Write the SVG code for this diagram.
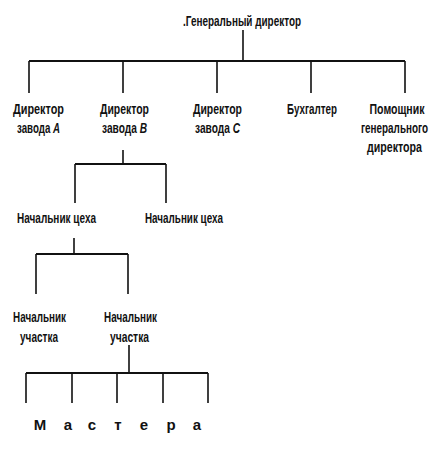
<svg xmlns="http://www.w3.org/2000/svg" width="432" height="454" viewBox="0 0 432 454">
<style>
text{font-family:"Liberation Sans",Arial,sans-serif;font-size:15.5px;font-weight:bold;fill:#111;text-anchor:middle}
.m{font-size:15px}
.l{stroke:#111;stroke-width:1.6;fill:none}
.h{stroke:#111;stroke-width:2.2;fill:none}
</style>
<rect width="432" height="454" fill="#fff"/>
<g id="connectors">
<line class="l" x1="243" y1="30" x2="243" y2="61"/>
<line class="h" x1="29" y1="61" x2="405" y2="61"/>
<path class="l" d="M29 61V93M123 61V93M217 61V93M311 61V93M405 61V93"/>
<line class="l" x1="123" y1="150" x2="123" y2="164"/>
<line class="h" x1="75" y1="164" x2="166" y2="164"/>
<path class="l" d="M75 164V203M166 164V203"/>
<line class="l" x1="74" y1="238" x2="74" y2="254"/>
<line class="h" x1="36" y1="254" x2="128" y2="254"/>
<path class="l" d="M36 254V294M128 254V294"/>
<line class="l" x1="129" y1="345" x2="129" y2="373"/>
<line class="h" x1="26" y1="373" x2="208" y2="373"/>
<path class="l" d="M26 373V403M72 373V403M117 373V403M163 373V403M208 373V403"/>
</g>
<g id="n-gen"><text x="242" y="26" textLength="118" lengthAdjust="spacingAndGlyphs">.Генеральный директор</text></g>
<g id="n-dirA"><text x="38.5" y="114" textLength="51" lengthAdjust="spacingAndGlyphs">Директор</text><text x="38.5" y="133" textLength="43" lengthAdjust="spacingAndGlyphs">завода <tspan font-style="italic">A</tspan></text></g>
<g id="n-dirB"><text x="124.5" y="114" textLength="49" lengthAdjust="spacingAndGlyphs">Директор</text><text x="124.5" y="133" textLength="45" lengthAdjust="spacingAndGlyphs">завода <tspan font-style="italic">B</tspan></text></g>
<g id="n-dirC"><text x="217.5" y="114" textLength="49" lengthAdjust="spacingAndGlyphs">Директор</text><text x="217.5" y="133" textLength="45" lengthAdjust="spacingAndGlyphs">завода <tspan font-style="italic">C</tspan></text></g>
<g id="n-buh"><text x="312" y="114" textLength="50" lengthAdjust="spacingAndGlyphs">Бухгалтер</text></g>
<g id="n-pom"><text x="397" y="114" textLength="55" lengthAdjust="spacingAndGlyphs">Помощник</text><text x="394.5" y="133" textLength="67" lengthAdjust="spacingAndGlyphs">генерального</text><text x="394.5" y="152" textLength="55" lengthAdjust="spacingAndGlyphs">директора</text></g>
<g id="n-cex1"><text x="56.5" y="223" textLength="79" lengthAdjust="spacingAndGlyphs">Начальник цеха</text></g>
<g id="n-cex2"><text x="184" y="223" textLength="78" lengthAdjust="spacingAndGlyphs">Начальник цеха</text></g>
<g id="n-uch1"><text x="39.5" y="322" textLength="53" lengthAdjust="spacingAndGlyphs">Начальник</text><text x="39" y="342" textLength="38" lengthAdjust="spacingAndGlyphs">участка</text></g>
<g id="n-uch2"><text x="130.5" y="322" textLength="53" lengthAdjust="spacingAndGlyphs">Начальник</text><text x="129.5" y="342" textLength="39" lengthAdjust="spacingAndGlyphs">участка</text></g>
<g id="n-mast">
<text class="m" x="40" y="430">М</text><text class="m" x="68" y="430">а</text><text class="m" x="92" y="430">с</text><text class="m" x="118" y="430">т</text><text class="m" x="144" y="430">е</text><text class="m" x="171" y="430">р</text><text class="m" x="197" y="430">а</text>
</g>
</svg>
